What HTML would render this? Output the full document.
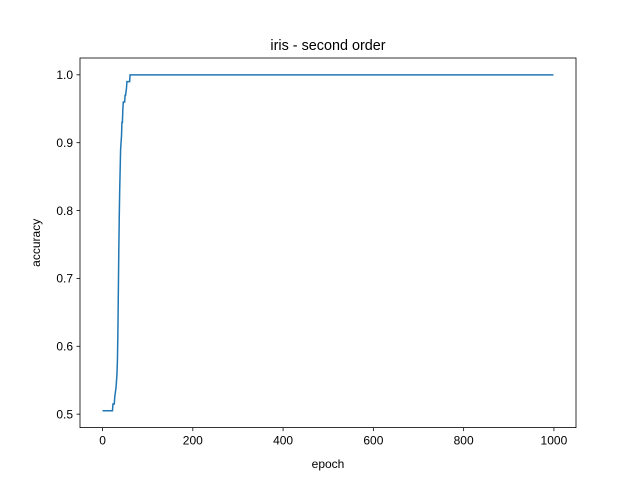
<!DOCTYPE html>
<html><head><meta charset="utf-8"><style>
body{margin:0;background:#fff;}
svg{font-family:"Liberation Sans","DejaVu Sans",sans-serif;}
</style></head><body>
<svg id="c" width="640" height="480">
<rect width="640" height="480" fill="#fff"/>
<text x="328" y="50" font-size="14.4" text-anchor="middle">iris - second order</text>
<rect x="80" y="58" width="496" height="369.6" fill="none" stroke="#000" stroke-width="0.8"/>
<g id="ticks"></g>
<text x="328" y="468" font-size="12" text-anchor="middle">epoch</text>
<text transform="translate(40,242.8) rotate(-90)" font-size="12" text-anchor="middle">accuracy</text>
<path id="line" fill="none" stroke="#1f77b4" stroke-width="1.5"/>
</svg>
<script>
const epochs = [0,22,23,26,27,30,32,33,34,35,36,37,38,39,40,41,42,43,44,45,46,47,48,49,50,51,53,54,60,61,62,999];
const accuracy = [0.505,0.505,0.515,0.515,0.525,0.54,0.56,0.58,0.62,0.68,0.74,0.79,0.83,0.86,0.89,0.9,0.91,0.93,0.93,0.95,0.96,0.96,0.96,0.96,0.97,0.97,0.98,0.99,0.99,1.0,1.0,1.0];
const xTicks = [0,200,400,600,800,1000];
const yTicks = [0.5,0.6,0.7,0.8,0.9,1.0];
const yTickLabels = ["0.5","0.6","0.7","0.8","0.9","1.0"];
const X0=80,X1=576,Y0=427.6,Y1=58;
const xMin=-49.95,xMax=1048.95,yMin=0.4802,yMax=1.0248;
function sx(v){return X0+(v-xMin)/(xMax-xMin)*(X1-X0);}
function sy(v){return Y0-(v-yMin)/(yMax-yMin)*(Y0-Y1);}
const ns="http://www.w3.org/2000/svg";
const g=document.getElementById('ticks');
function mk(t,a){const e=document.createElementNS(ns,t);for(const k in a)e.setAttribute(k,a[k]);g.appendChild(e);return e;}
xTicks.forEach(v=>{
  const l=mk('line',{x1:sx(v),x2:sx(v),y1:Y0,y2:Y0+3.5,stroke:'#000','stroke-width':0.8});
  
  
  const t=mk('text',{x:sx(v),y:Y0+17,'font-size':12,'text-anchor':'middle'});
  t.textContent=v;
  
  
});
yTicks.forEach((v,i)=>{
  const l=mk('line',{x1:X0-3.5,x2:X0,y1:sy(v),y2:sy(v),stroke:'#000','stroke-width':0.8});
  
  
  const t=mk('text',{x:X0-7,y:sy(v)+4.3,'font-size':12,'text-anchor':'end'});
  t.textContent=yTickLabels[i];
  
  
});
document.getElementById('line').setAttribute('d',epochs.map((e,i)=>(i?'L':'M')+sx(e).toFixed(2)+','+sy(accuracy[i]).toFixed(2)).join(''));
</script>
</body></html>
